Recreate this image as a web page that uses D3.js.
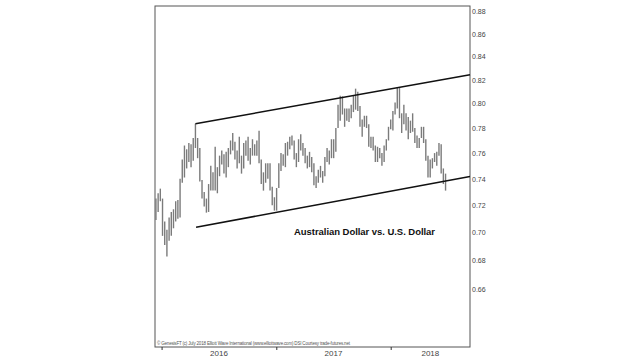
<!DOCTYPE html>
<html>
<head>
<meta charset="utf-8">
<script src="https://cdn.jsdelivr.net/npm/d3@7"></script>
<style>
  html, body { margin: 0; padding: 0; background: #fff; }
  svg { display: block; font-family: "Liberation Sans", Arial, sans-serif; }
</style>
</head>
<body>
<div class="chart"></div>
<script>
// weekly bars, AUD/USD, week starting mondays
const firstWeek = "2015-12-14";
const lastWeek = "2018-06-25";

const highs = [
  // 2015
  0.7250, 0.7290, 0.7325,
  // 2016
  0.7250, 0.7080, 0.7020, 0.7110, 0.7150, 0.7170, 0.7230, 0.7240, 0.7400,
  0.7550, 0.7660, 0.7630, 0.7680, 0.7670, 0.7720, 0.7835, 0.7720,
  0.7640, 0.7390, 0.7300, 0.7250, 0.7360, 0.7500, 0.7450, 0.7650, 0.7490,
  0.7580, 0.7620, 0.7590, 0.7610, 0.7640, 0.7700, 0.7760, 0.7690, 0.7620,
  0.7730, 0.7580, 0.7680, 0.7700, 0.7730, 0.7640, 0.7710, 0.7670, 0.7700,
  0.7778, 0.7550, 0.7450, 0.7520, 0.7520, 0.7520, 0.7340, 0.7260,
  // 2017
  0.7330, 0.7520, 0.7600, 0.7590, 0.7680, 0.7690, 0.7730, 0.7740, 0.7700,
  0.7600, 0.7710, 0.7750, 0.7680, 0.7640, 0.7580, 0.7610, 0.7570,
  0.7520, 0.7420, 0.7470, 0.7500, 0.7460, 0.7570, 0.7640, 0.7620, 0.7710,
  0.7710, 0.7800, 0.7990, 0.8066, 0.8060, 0.7960, 0.7960, 0.7960, 0.7990,
  0.8070, 0.8125, 0.8100, 0.7980, 0.7870, 0.7900, 0.7900, 0.7830, 0.7730,
  0.7730, 0.7660, 0.7650, 0.7640, 0.7600, 0.7660, 0.7710, 0.7810,
  // 2018
  0.7870, 0.7940, 0.8010, 0.8135, 0.8130, 0.7920, 0.7990, 0.7920, 0.7890,
  0.7860, 0.7920, 0.7800, 0.7740, 0.7720, 0.7810, 0.7810, 0.7710,
  0.7580, 0.7550, 0.7560, 0.7600, 0.7610, 0.7680, 0.7670, 0.7480, 0.7440
];

const lows = [
  // 2015
  0.7090, 0.7150, 0.7230,
  // 2016
  0.6975, 0.6910, 0.6827, 0.6940, 0.6975, 0.7030, 0.7080, 0.7100, 0.7110,
  0.7370, 0.7410, 0.7480, 0.7530, 0.7490, 0.7540, 0.7640, 0.7560,
  0.7380, 0.7250, 0.7190, 0.7145, 0.7150, 0.7310, 0.7310, 0.7310, 0.7290,
  0.7420, 0.7510, 0.7440, 0.7410, 0.7490, 0.7590, 0.7620, 0.7550, 0.7480,
  0.7520, 0.7440, 0.7480, 0.7580, 0.7540, 0.7510, 0.7580, 0.7580, 0.7580,
  0.7520, 0.7360, 0.7310, 0.7370, 0.7400, 0.7310, 0.7200, 0.7160,
  // 2017
  0.7160, 0.7330, 0.7460, 0.7500, 0.7490, 0.7580, 0.7630, 0.7660, 0.7550,
  0.7490, 0.7530, 0.7620, 0.7580, 0.7520, 0.7480, 0.7490, 0.7450,
  0.7350, 0.7329, 0.7370, 0.7410, 0.7370, 0.7420, 0.7530, 0.7510, 0.7560,
  0.7560, 0.7610, 0.7800, 0.7860, 0.7910, 0.7810, 0.7860, 0.7850, 0.7880,
  0.7930, 0.7950, 0.7940, 0.7810, 0.7730, 0.7810, 0.7800, 0.7650, 0.7640,
  0.7620, 0.7530, 0.7530, 0.7560, 0.7500, 0.7530, 0.7620, 0.7700,
  // 2018
  0.7790, 0.7780, 0.7910, 0.7960, 0.7880, 0.7760, 0.7830, 0.7780, 0.7710,
  0.7760, 0.7770, 0.7680, 0.7640, 0.7640, 0.7720, 0.7680, 0.7540,
  0.7410, 0.7410, 0.7480, 0.7530, 0.7500, 0.7580, 0.7440, 0.7360, 0.7310
];

// trend channel drawn on the chart: [date, value]
const upperLine = [["2016-04-18", 0.7835], ["2018-09-11", 0.8243]];
const lowerLine = [["2016-04-20", 0.7038], ["2018-09-11", 0.7417]];

const priceTicks = [0.66, 0.68, 0.70, 0.72, 0.74, 0.76, 0.78, 0.80, 0.82, 0.84, 0.86, 0.88];
const yearTicks = ["2016-01-01", "2017-01-01", "2018-01-01"];
const yearLabels = ["2016", "2017", "2018"];

const title = "Australian Dollar vs. U.S. Dollar";
const credit = "\u00A9 GenesisFT   (c) July 2018 Elliott Wave International (www.elliottwave.com)   DSI Courtesy trade-futures.net";

const parse = d3.timeParse("%Y-%m-%d");
const weeks = d3.timeMonday.range(parse(firstWeek), d3.timeDay.offset(parse(lastWeek), 1));
const bars = weeks.map((d, i) => ({date: d, high: highs[i], low: lows[i]}));

const W = 640, H = 360;
const box = {left: 155, right: 470, top: 6, bottom: 347};

const svg = d3.select(".chart").append("svg")
    .attr("width", W)
    .attr("height", H);

const x = d3.scaleTime()
    .domain([parse("2015-12-11"), parse("2018-09-11")])
    .range([box.left, box.right]);

const y = d3.scaleLog()
    .domain([0.6216, 0.8852])
    .range([box.bottom, box.top]);

// frame
svg.append("rect")
    .attr("x", box.left)
    .attr("y", box.top)
    .attr("width", box.right - box.left)
    .attr("height", box.bottom - box.top)
    .attr("fill", "none")
    .attr("stroke", "#555")
    .attr("stroke-width", 1);

// price axis on the right, labels only
svg.append("g")
    .attr("transform", "translate(" + box.right + ",0)")
    .call(d3.axisRight(y).tickValues(priceTicks).tickFormat(d3.format(".2f")).tickSize(0).tickPadding(2))
    .call(g => g.select(".domain").remove())
    .selectAll("text")
    .attr("font-size", 7)
    .attr("fill", "#444")
    .attr("font-family", "Liberation Sans, Arial, sans-serif");

// year ticks below frame
const yearDates = yearTicks.map(parse);
svg.append("g")
    .attr("transform", "translate(0," + box.bottom + ")")
    .call(d3.axisBottom(x).tickValues(yearDates).tickSize(3).tickFormat(""))
    .call(g => g.select(".domain").remove())
    .selectAll("line")
    .attr("stroke", "#333");

// year labels centred in the visible part of each year
const xEnd = x.domain()[1];
svg.selectAll(".year")
    .data(yearDates)
    .enter().append("text")
    .attr("class", "year")
    .attr("x", (d, i) => {
        const next = i < yearDates.length - 1 ? yearDates[i + 1] : xEnd;
        return (x(d) + x(next)) / 2;
    })
    .attr("y", 356)
    .attr("text-anchor", "middle")
    .attr("font-size", 8)
    .attr("fill", "#444")
    .text((d, i) => yearLabels[i]);

// weekly range bars
svg.selectAll(".bar")
    .data(bars)
    .enter().append("line")
    .attr("class", "bar")
    .attr("x1", d => x(d.date))
    .attr("x2", d => x(d.date))
    .attr("y1", d => y(d.high))
    .attr("y2", d => y(d.low))
    .attr("stroke", "#7b7b7b")
    .attr("stroke-width", 1.4);

// channel lines
const line = d3.line()
    .x(d => x(parse(d[0])))
    .y(d => y(d[1]));

[upperLine, lowerLine].forEach(l => {
    svg.append("path")
        .attr("d", line(l))
        .attr("fill", "none")
        .attr("stroke", "#111")
        .attr("stroke-width", 1.5);
});

svg.append("text")
    .attr("x", 294)
    .attr("y", 235)
    .attr("font-size", 9.5)
    .attr("font-weight", "bold")
    .attr("fill", "#111")
    .attr("textLength", 141)
    .text(title);

svg.append("text")
    .attr("x", 157)
    .attr("y", 344.5)
    .attr("font-size", 4.5)
    .attr("fill", "#555")
    .attr("textLength", 193)
    .text(credit);
</script>
</body>
</html>
